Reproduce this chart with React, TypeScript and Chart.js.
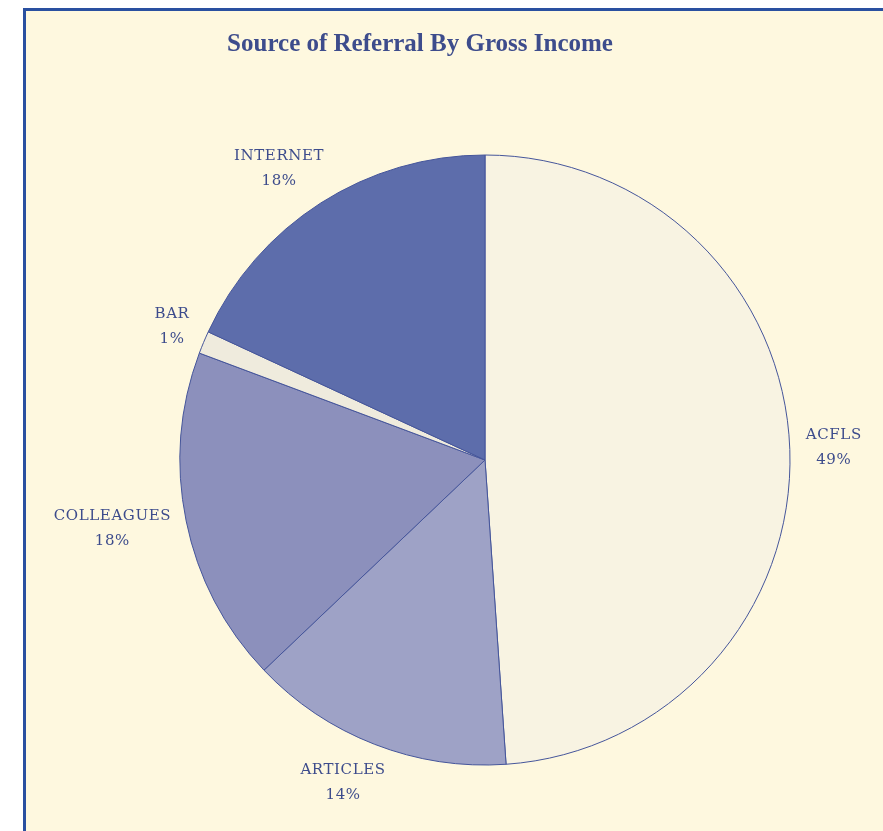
import React, { useEffect, useRef } from "react";
import { Chart, registerables } from "chart.js";

Chart.register(...registerables);

const TITLE = "Source of Referral By Gross Income";
const CATEGORIES = ["ACFLS", "ARTICLES", "COLLEAGUES", "BAR", "INTERNET"];
const VALUES = [48.9, 14.0, 17.8, 1.2, 18.1];
const COLORS = ["#f8f3e2", "#9ea2c6", "#8c90bc", "#efebdd", "#5d6dab"];

const BG = "#fef8df";
const INK = "#3d4c8c";

const labelPlugin = {
  id: "outerLabels",
  afterDatasetsDraw(chart: any) {
    const ctx = chart.ctx as CanvasRenderingContext2D;
    const meta = chart.getDatasetMeta(0);
    const total = VALUES.reduce((a, b) => a + b, 0);
    ctx.save();
    ctx.font = "15px 'DejaVu Serif'";
    (ctx as any).letterSpacing = "0.6px";
    ctx.fillStyle = INK;
    ctx.textAlign = "center";
    ctx.textBaseline = "middle";
    const lineH = 25;
    meta.data.forEach((arc: any, i: number) => {
      const p = arc.getProps(["x", "y", "startAngle", "endAngle", "outerRadius"], true);
      const a = (p.startAngle + p.endAngle) / 2;
      const dx = Math.cos(a);
      const dy = Math.sin(a);
      const l1 = CATEGORIES[i];
      const l2 = Math.round((VALUES[i] / total) * 100) + "%";
      const w = Math.max(ctx.measureText(l1).width, ctx.measureText(l2).width);
      const h = lineH * 2;
      const r = p.outerRadius + 16;
      const cx = p.x + r * dx + (Math.sign(dx) * Math.sqrt(Math.abs(dx)) * w) / 2;
      const cy = p.y + r * dy + (dy * h) / 2;
      ctx.fillText(l1, cx, cy - lineH / 2);
      ctx.fillText(l2, cx, cy + lineH / 2);
    });
    ctx.restore();
  },
};

const titlePlugin = {
  id: "fixedTitle",
  afterDraw(chart: any) {
    const ctx = chart.ctx as CanvasRenderingContext2D;
    ctx.save();
    ctx.font = "bold 25px 'Liberation Serif'";
    ctx.fillStyle = INK;
    ctx.textAlign = "center";
    ctx.textBaseline = "middle";
    ctx.fillText(TITLE, 420, 45);
    ctx.restore();
  },
};

export default function App() {
  const ref = useRef<HTMLCanvasElement | null>(null);
  useEffect(() => {
    document.body.style.margin = "0";
    const chart = new Chart(ref.current as HTMLCanvasElement, {
      type: "pie",
      data: {
        labels: CATEGORIES,
        datasets: [
          {
            data: VALUES,
            backgroundColor: COLORS,
            borderColor: "#45559a",
            borderWidth: 1,
          },
        ],
      },
      options: {
        animation: false,
        responsive: false,
        radius: 305,
        layout: { padding: { left: 175, right: 88, top: 150, bottom: 61 } },
        plugins: {
          legend: { display: false },
          title: { display: false },
          tooltip: { enabled: false },
        },
      } as any,
      plugins: [labelPlugin, titlePlugin],
    });
    return () => chart.destroy();
  }, []);

  return (
    <div style={{ position: "relative", width: 883, height: 831, background: "#ffffff", overflow: "hidden" }}>
      <div
        style={{
          position: "absolute",
          left: 23,
          top: 8,
          width: 870,
          height: 830,
          background: BG,
          borderLeft: "3px solid #2a50a0",
          borderTop: "3px solid #2a50a0",
        }}
      />
      <canvas ref={ref} width={883} height={831} style={{ position: "absolute", left: 0, top: 0 }} />
    </div>
  );
}
